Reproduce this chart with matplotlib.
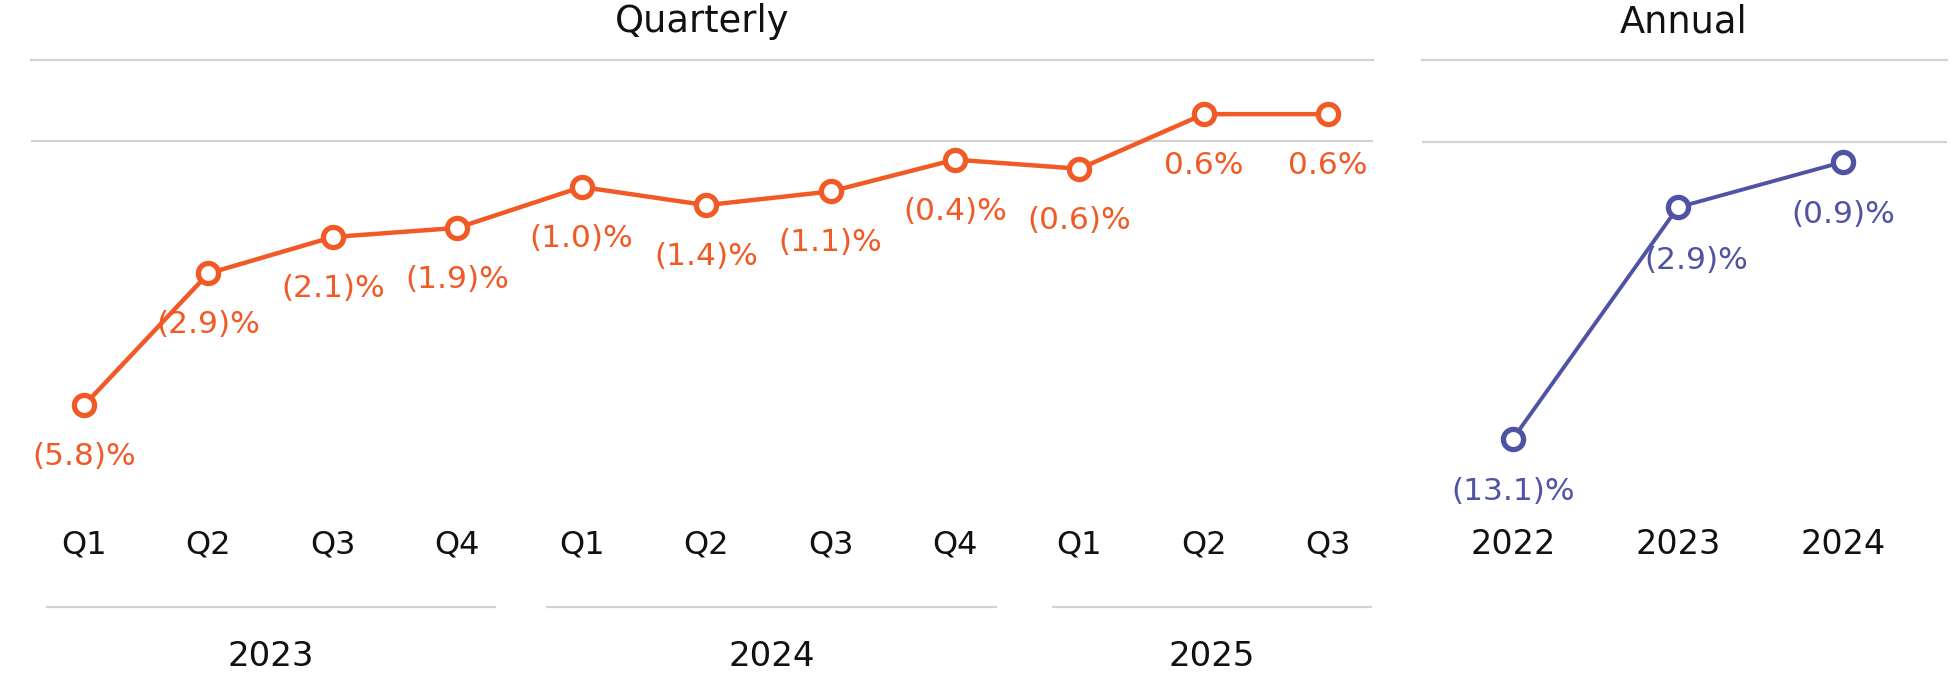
import numpy as np
import matplotlib.pyplot as plt
import matplotlib.transforms as mtransforms

# quarterly growth, % (negatives shown in brackets)
q_labels = ["Q1", "Q2", "Q3", "Q4", "Q1", "Q2", "Q3", "Q4", "Q1", "Q2", "Q3"]
q_values = [-5.8, -2.9, -2.1, -1.9, -1.0, -1.4, -1.1, -0.4, -0.6, 0.6, 0.6]
q_years = ["2023", "2024", "2025"]

# annual growth, %
a_labels = ["2022", "2023", "2024"]
a_values = [-13.1, -2.9, -0.9]

orange = "#F15A24"
purple = "#5053A4"
grid = "#D3D3D3"
txt = "#111111"

plt.rcParams['font.family'] = ['DejaVu Sans']


def fmt(v):
    if v < 0:
        return "(%.1f)%%" % abs(v)
    return "%.1f%%" % v


fig = plt.figure(figsize=(19.5, 6.91), dpi=100)
W, H = 1950.0, 691.0
bottom = 1 - 500 / H
height = (500 - 60) / H

ax_q = fig.add_axes([31 / W, bottom, (1373 - 31) / W, height])
ax_a = fig.add_axes([1422 / W, bottom, (1947 - 1422) / W, height])

# quarterly panel
xq = np.arange(len(q_values))
ax_q.set_xlim(-0.426, 10.36)
ax_q.set_ylim(-7.88, 1.79)
ax_q.axis('off')
ax_q.axhline(0, color=grid, lw=1.6, zorder=1)
ax_q.axhline(1.79, color=grid, lw=1.6, zorder=1, clip_on=False)
ax_q.plot(xq, q_values, color=orange, lw=3.2, marker='o', ms=14.5,
          mew=3.8, mfc='white', mec=orange, zorder=3)
for x, v in zip(xq, q_values):
    ax_q.annotate(fmt(v), (x, v), xytext=(0, -37), textcoords='offset points',
                  ha='center', va='center', color=orange, fontsize=22.5)

tq = mtransforms.blended_transform_factory(ax_q.transData, fig.transFigure)
for x, lab in zip(xq, q_labels):
    ax_q.text(x, 0.211, lab, transform=tq, ha='center', va='center',
              fontsize=23, color=txt)
# bracket line under each year of quarters
spans = [(-0.3, 3.3), (3.72, 7.33), (7.79, 10.34)]
for (a, b), yr in zip(spans, q_years):
    ax_q.plot([a, b], [0.121, 0.121], transform=tq,
              color=grid, lw=1.6, clip_on=False)
    ax_q.text((a + b) / 2, 0.05, yr, transform=tq, ha='center',
              va='center', fontsize=24.5, color=txt)

# annual panel
xa = np.arange(len(a_values))
a_dx = [0, 13, 0]
ax_a.set_xlim(-0.55, 2.63)
ax_a.set_ylim(-15.79, 3.59)
ax_a.axis('off')
ax_a.axhline(0, color=grid, lw=1.6, zorder=1)
ax_a.axhline(3.59, color=grid, lw=1.6, zorder=1, clip_on=False)
ax_a.plot(xa, a_values, color=purple, lw=2.8, marker='o', ms=14.5,
          mew=3.8, mfc='white', mec=purple, zorder=3)
for x, v, dx in zip(xa, a_values, a_dx):
    ax_a.annotate(fmt(v), (x, v), xytext=(dx, -38), textcoords='offset points',
                  ha='center', va='center', color=purple, fontsize=22.5)

ta = mtransforms.blended_transform_factory(ax_a.transData, fig.transFigure)
for x, lab in zip(xa, a_labels):
    ax_a.text(x, 0.212, lab, transform=ta, ha='center', va='center',
              fontsize=24, color=txt)

fig.text(702 / W, 1 - 22 / H, "Quarterly", ha='center', va='center',
         fontsize=26.5, color=txt)
fig.text(1684 / W, 1 - 22 / H, "Annual", ha='center', va='center',
         fontsize=26.5, color=txt)

fig.savefig("out.png", dpi=100, facecolor='white')
